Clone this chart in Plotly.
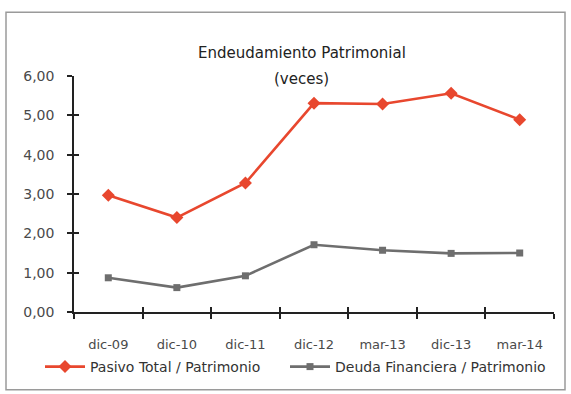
import plotly.graph_objects as go

# Periods and ratios (times)
periods = ["dic-09", "dic-10", "dic-11", "dic-12", "mar-13", "dic-13", "mar-14"]
pasivo_total = [2.97, 2.40, 3.28, 5.31, 5.29, 5.56, 4.89]
deuda_financiera = [0.87, 0.62, 0.92, 1.71, 1.57, 1.49, 1.50]
y_ticks = [0, 1, 2, 3, 4, 5, 6]

WIDE = "DejaVu Sans, Verdana, sans-serif"
NARROW = "Arial, Liberation Sans, sans-serif"
RED = "#e8472e"
GRAY = "#6e6e6e"
AXIS = "#222222"

fig = go.Figure()
fig.add_trace(go.Scatter(
    x=periods, y=pasivo_total, mode="lines+markers",
    name="Pasivo Total / Patrimonio", legend="legend",
    line=dict(color=RED, width=2.6),
    marker=dict(symbol="diamond", size=10, color=RED),
))
fig.add_trace(go.Scatter(
    x=periods, y=deuda_financiera, mode="lines+markers",
    name="Deuda Financiera / Patrimonio", legend="legend2",
    line=dict(color=GRAY, width=2.6),
    marker=dict(symbol="square", size=7, color=GRAY),
))
# empty trace that carries the overlay axes (inner half of the crossing ticks)
fig.add_trace(go.Scatter(
    x=periods, y=[None] * len(periods), xaxis="x2", yaxis="y2",
    mode="lines", showlegend=False, hoverinfo="skip",
))

L, R, T, B = 74, 17, 76, 81
W, H = 571, 394
pw, ph = W - L - R, H - T - B

def px(x):
    return (x - L) / pw

def py(y):
    return (H - B - y) / ph

tick_common = dict(ticklen=5, tickcolor=AXIS, tickwidth=1.5,
                   zeroline=False, fixedrange=True, showgrid=False)
legend_common = dict(
    orientation="h", y=py(367), xanchor="left", yanchor="middle",
    font=dict(family=WIDE, size=14, color="#333333"),
    itemwidth=40, bgcolor="rgba(0,0,0,0)",
)

fig.update_layout(
    width=W, height=H,
    margin=dict(l=L, r=R, t=T, b=B),
    paper_bgcolor="white", plot_bgcolor="white",
    separators=",.",
    font=dict(family=NARROW, size=13, color="#444444"),
    showlegend=True,
    legend=dict(x=px(40), **legend_common),
    legend2=dict(x=px(285), **legend_common),
    xaxis=dict(
        type="category", range=[-0.5, 6.5],
        showline=True, linecolor=AXIS, linewidth=1.5,
        ticks="outside", tickson="boundaries", ticklabelstandoff=20,
        tickfont=dict(family=WIDE, size=13, color="#4a4a4a"),
        **tick_common,
    ),
    yaxis=dict(
        range=[0, 6], tickvals=y_ticks, tickformat=".2f",
        showline=True, linecolor=AXIS, linewidth=1.5,
        ticks="outside", ticklabelstandoff=10,
        tickfont=dict(family=WIDE, size=14, color="#4a4a4a"),
        **tick_common,
    ),
    xaxis2=dict(
        type="category", range=[-0.5, 6.5], overlaying="x", anchor="y2",
        side="bottom", categoryarray=periods, categoryorder="array",
        showline=False, ticks="inside", tickson="boundaries",
        showticklabels=False, **tick_common,
    ),
    yaxis2=dict(
        range=[0, 6], tickvals=y_ticks, overlaying="y", anchor="x2",
        side="left", showline=False, ticks="inside",
        showticklabels=False, **tick_common,
    ),
    shapes=[dict(
        type="rect", xref="paper", yref="paper",
        x0=px(6), x1=px(565), y0=py(391), y1=py(12),
        line=dict(color="#9a9a9a", width=1.5), fillcolor="rgba(0,0,0,0)",
        layer="below",
    )],
    annotations=[
        dict(text="Endeudamiento Patrimonial", xref="paper", yref="paper",
             x=px(302), y=py(42), showarrow=False,
             font=dict(family=WIDE, size=15, color="#222222")),
        dict(text="(veces)", xref="paper", yref="paper",
             x=px(301), y=py(68), showarrow=False,
             font=dict(family=WIDE, size=15, color="#222222")),
    ],
)

fig.write_html("out.html")
